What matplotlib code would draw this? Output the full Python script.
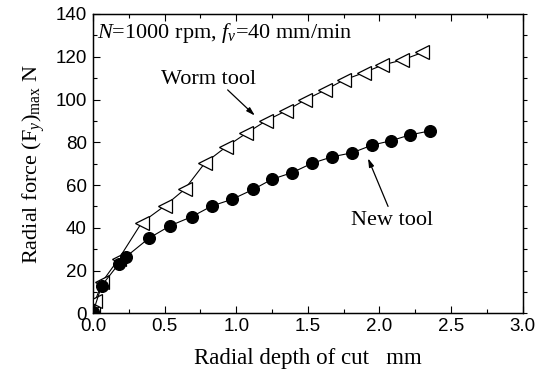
import matplotlib
matplotlib.use("Agg")
import matplotlib.pyplot as plt
from matplotlib.ticker import MultipleLocator

# Data
worm_x = [0.0, 0.014, 0.065, 0.18, 0.34, 0.50, 0.64, 0.78, 0.93, 1.07, 1.21, 1.35,
          1.48, 1.62, 1.75, 1.89, 2.02, 2.16, 2.30]
worm_y = [0.0, 5.6, 14.8, 25.5, 42.4, 50.2, 58.0, 70.2, 77.9, 84.2, 90.1, 94.8,
          99.8, 104.4, 109.1, 112.5, 116.1, 118.5, 122.0]
new_x = [0.0, 0.06, 0.18, 0.23, 0.39, 0.54, 0.69, 0.83, 0.97, 1.12, 1.25, 1.39,
         1.53, 1.67, 1.81, 1.95, 2.08, 2.21, 2.35]
new_y = [0.5, 12.9, 23.1, 26.4, 35.1, 41.0, 45.2, 50.2, 53.3, 58.0, 62.7, 65.8,
         70.2, 73.2, 75.1, 78.7, 80.7, 83.4, 85.3]

x_ticks = [0.0, 0.5, 1.0, 1.5, 2.0, 2.5, 3.0]
y_ticks = [0, 20, 40, 60, 80, 100, 120, 140]

plt.rcParams['mathtext.fontset'] = 'custom'
plt.rcParams['mathtext.rm'] = 'Liberation Serif'
plt.rcParams['mathtext.it'] = 'Liberation Serif:italic'

fig = plt.figure(figsize=(5.43, 3.78), dpi=100)
ax = fig.add_axes([93/543, 1-313.3/378, (522.7-93)/543, (313.3-14)/378])

ax.plot(worm_x, worm_y, color='black', lw=0.8, marker='<', ms=9.5,
        mfc='white', mec='black', mew=0.9, clip_on=True, zorder=3)
ax.plot(new_x, new_y, color='black', lw=0.8, marker='o', ms=8.4,
        mfc='black', mec='black', clip_on=True, zorder=3)

ax.set_xlim(0, 3.0)
ax.set_ylim(0, 140)
ax.set_xticks(x_ticks)
ax.set_yticks(y_ticks)
ax.set_xticklabels([f"{v:.1f}" for v in x_ticks])
ax.set_yticklabels([str(v) for v in y_ticks])
ax.xaxis.set_minor_locator(MultipleLocator(0.25))
ax.yaxis.set_minor_locator(MultipleLocator(10))

for lab in ax.get_xticklabels() + ax.get_yticklabels():
    lab.set_fontfamily('Liberation Sans')
    lab.set_fontsize(13.5)

ax.tick_params(axis='both', which='major', direction='in', length=5, width=0.8,
               top=True, right=False)
ax.tick_params(axis='both', which='minor', direction='in', length=3, width=0.8,
               top=True, right=False)
ax.tick_params(axis='x', pad=3.5)
ax.tick_params(axis='y', pad=4.5)

# right side: outward small ticks without labels
axr = ax.twinx()
axr.set_ylim(0, 140)
axr.yaxis.set_major_locator(MultipleLocator(10))
axr.tick_params(axis='y', direction='out', length=3, width=0.8, labelright=False)

for sp in ax.spines.values():
    sp.set_linewidth(1.0)

ax.set_xlabel("Radial depth of cut   mm", fontfamily='Liberation Serif',
              fontsize=16.5, labelpad=9)
ax.set_ylabel(r"Radial force (F$_{y}$)$_{\mathrm{max}}$ N", fontfamily='Liberation Serif',
              fontsize=16, labelpad=6)

ax.text(0.026, 128.8, r"$\mathit{N}$=1000 rpm, $\mathit{f}_{v}$=40 mm/min",
        fontfamily='Liberation Serif', fontsize=16, va='baseline', ha='left')

ax.text(0.81, 109.5, "Worm tool", fontfamily='Liberation Serif', fontsize=16,
        ha='center', va='center')
ax.annotate("", xy=(1.13, 92.5), xytext=(0.94, 104.5),
            arrowprops=dict(arrowstyle='-|>,head_length=0.5,head_width=0.15',
                            color='black', lw=0.9, shrinkA=0, shrinkB=0))

ax.text(2.09, 43.5, "New tool", fontfamily='Liberation Serif', fontsize=16,
        ha='center', va='center')
ax.annotate("", xy=(1.92, 72.5), xytext=(2.06, 50.0),
            arrowprops=dict(arrowstyle='-|>,head_length=0.5,head_width=0.15',
                            color='black', lw=0.9, shrinkA=0, shrinkB=0))

fig.savefig("out.png", dpi=100)
